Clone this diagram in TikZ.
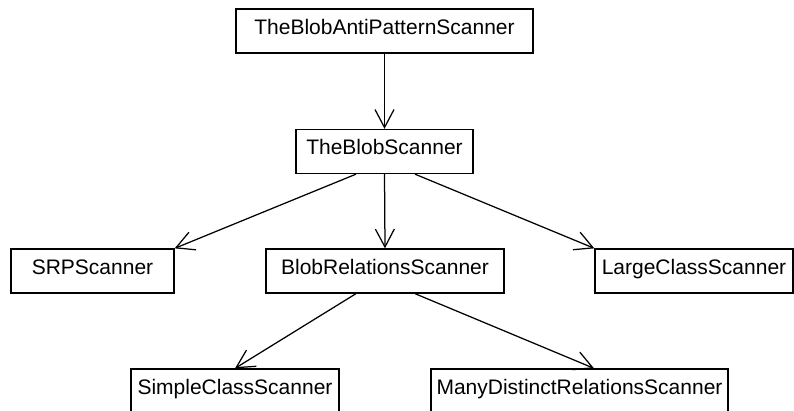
\documentclass[tikz,border=0pt]{standalone}
\usepackage{fontspec}
\setmainfont{Liberation Sans}
\usetikzlibrary{arrows.meta}
\begin{document}
\begin{tikzpicture}[x=1pt,y=1pt,
  classbox/.style={draw, line width=1.3pt, inner sep=0pt, minimum height=44pt,
    text height=15pt, text depth=9pt, font=\fontsize{21}{25}\selectfont},
  inherit/.style={line width=1.25pt, -{Straight Barb[length=18pt,width=19pt,line width=1.25pt]}}
]
\useasboundingbox (0,0) rectangle (794,-410);
\clip (0,0) rectangle (794,-410);
\fill[white] (0,0) rectangle (794,-410);

% class hierarchy of the scanners
\node[classbox, minimum width=297pt] (top) at (384.5,-31) {TheBlobAntiPatternScanner};
\node[classbox, minimum width=177pt] (blob) at (384.5,-151.5) {TheBlobScanner};
\node[classbox, minimum width=163pt] (srp) at (92.5,-271) {SRPScanner};
\node[classbox, minimum width=238pt] (rel) at (385,-271) {BlobRelationsScanner};
\node[classbox, minimum width=198pt] (large) at (694,-271) {LargeClassScanner};
\node[classbox, minimum width=208pt] (simple) at (235,-391) {SimpleClassScanner};
\node[classbox, minimum width=297pt] (many) at (579.5,-391) {ManyDistinctRelationsScanner};

% connectors
\draw[inherit] (top.south) -- (blob.north);
\draw[inherit] ([xshift=-28.5pt]blob.south) -- (srp.north east);
\draw[inherit] (blob.south) -- (rel.north);
\draw[inherit] ([xshift=30.5pt]blob.south) -- (large.north west);
\draw[inherit] ([xshift=-29pt]rel.south) -- (simple.north);
\draw[inherit] ([xshift=30pt]rel.south) -- ([xshift=14.5pt]many.north);
\end{tikzpicture}
\end{document}
